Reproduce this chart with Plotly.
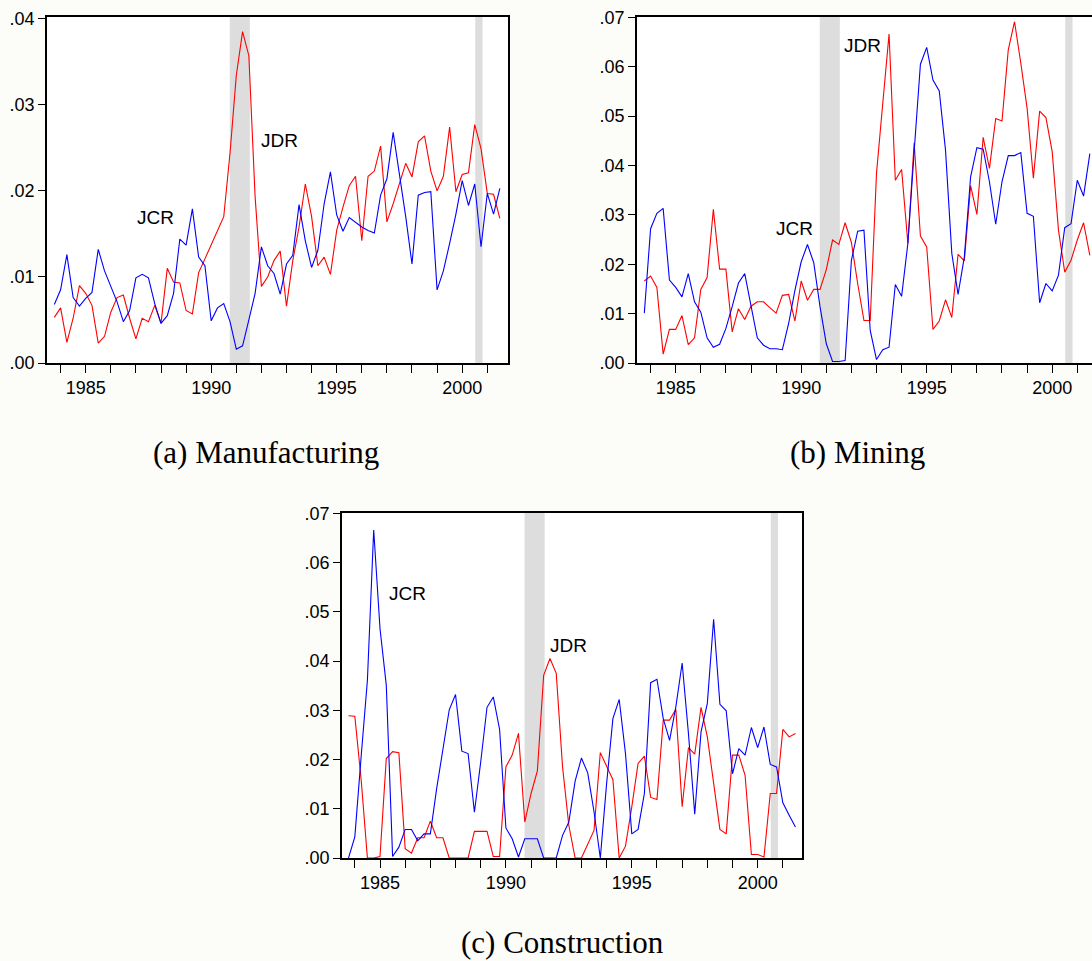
import plotly.graph_objects as go

# Quarterly observations 1983Q4 .. 2001Q3 (72 quarters)
start_year = 1983.75
n_q = 72
quarters = [start_year + 0.25 * i for i in range(n_q)]

# (a) Manufacturing
manu_jcr = [0.0068, 0.0085, 0.0126, 0.0076, 0.0066, 0.0075, 0.0082, 0.0132, 0.0107, 0.0090,
            0.0071, 0.0048, 0.0061, 0.0099, 0.0103, 0.0099, 0.0069, 0.0046, 0.0055, 0.0081,
            0.0144, 0.0137, 0.0179, 0.0123, 0.0113, 0.0049, 0.0064, 0.0069, 0.0048, 0.0016,
            0.0020, 0.0050, 0.0081, 0.0135, 0.0113, 0.0104, 0.0080, 0.0115, 0.0125, 0.0184,
            0.0142, 0.0111, 0.0131, 0.0185, 0.0222, 0.0172, 0.0153, 0.0169, 0.0163, 0.0158,
            0.0154, 0.0151, 0.0195, 0.0214, 0.0268, 0.0220, 0.0170, 0.0115, 0.0195, 0.0198,
            0.0199, 0.0085, 0.0107, 0.0139, 0.0173, 0.0212, 0.0183, 0.0208, 0.0135, 0.0197,
            0.0173, 0.0203]
manu_jdr = [0.0053, 0.0064, 0.0024, 0.0052, 0.0090, 0.0081, 0.0067, 0.0023, 0.0031, 0.0059,
            0.0076, 0.0079, 0.0052, 0.0028, 0.0052, 0.0048, 0.0067, 0.0046, 0.0110, 0.0094,
            0.0093, 0.0061, 0.0057, 0.0105, 0.0121, 0.0137, 0.0154, 0.0170, 0.0244, 0.0334,
            0.0385, 0.0357, 0.0193, 0.0089, 0.0100, 0.0119, 0.0130, 0.0066, 0.0119, 0.0158,
            0.0208, 0.0170, 0.0113, 0.0123, 0.0103, 0.0154, 0.0181, 0.0206, 0.0217, 0.0142,
            0.0217, 0.0223, 0.0252, 0.0164, 0.0185, 0.0208, 0.0232, 0.0216, 0.0257, 0.0264,
            0.0223, 0.0200, 0.0217, 0.0274, 0.0199, 0.0219, 0.0221, 0.0277, 0.0249, 0.0197,
            0.0196, 0.0168]

# (b) Mining
mine_jcr = [0.0101, 0.0272, 0.0303, 0.0313, 0.0168, 0.0153, 0.0134, 0.0181, 0.0124, 0.0103,
            0.0051, 0.0032, 0.0038, 0.0070, 0.0114, 0.0162, 0.0181, 0.0119, 0.0051, 0.0036,
            0.0029, 0.0029, 0.0027, 0.0080, 0.0147, 0.0205, 0.0240, 0.0203, 0.0114, 0.0039,
            0.0003, 0.0003, 0.0005, 0.0208, 0.0267, 0.0269, 0.0066, 0.0007, 0.0027, 0.0032,
            0.0159, 0.0135, 0.0242, 0.0428, 0.0605, 0.0639, 0.0573, 0.0551, 0.0431, 0.0222,
            0.0139, 0.0215, 0.0377, 0.0436, 0.0433, 0.0367, 0.0281, 0.0367, 0.0420, 0.0420,
            0.0426, 0.0303, 0.0297, 0.0122, 0.0161, 0.0146, 0.0178, 0.0274, 0.0282, 0.0370,
            0.0338, 0.0424]
mine_jdr = [0.0166, 0.0176, 0.0153, 0.0018, 0.0068, 0.0068, 0.0096, 0.0037, 0.0051, 0.0149,
            0.0173, 0.0311, 0.0190, 0.0190, 0.0063, 0.0110, 0.0088, 0.0115, 0.0124, 0.0124,
            0.0112, 0.0101, 0.0137, 0.0139, 0.0085, 0.0166, 0.0127, 0.0149, 0.0149, 0.0189,
            0.0249, 0.0240, 0.0284, 0.0244, 0.0161, 0.0086, 0.0086, 0.0384, 0.0526, 0.0666,
            0.0370, 0.0392, 0.0242, 0.0446, 0.0257, 0.0235, 0.0068, 0.0085, 0.0128, 0.0092,
            0.0220, 0.0207, 0.0359, 0.0301, 0.0457, 0.0394, 0.0495, 0.0490, 0.0634, 0.0691,
            0.0607, 0.0516, 0.0374, 0.0510, 0.0497, 0.0428, 0.0269, 0.0184, 0.0208, 0.0249,
            0.0284, 0.0218]

# (c) Construction
cons_jcr = [0.0000, 0.0043, 0.0205, 0.0361, 0.0666, 0.0466, 0.0351, 0.0003, 0.0022, 0.0058,
            0.0058, 0.0035, 0.0049, 0.0049, 0.0141, 0.0226, 0.0301, 0.0332, 0.0217, 0.0212,
            0.0093, 0.0195, 0.0306, 0.0327, 0.0261, 0.0061, 0.0039, 0.0002, 0.0039, 0.0039,
            0.0039, 0.0000, 0.0000, 0.0000, 0.0046, 0.0073, 0.0156, 0.0203, 0.0173, 0.0094,
            0.0000, 0.0151, 0.0283, 0.0322, 0.0212, 0.0049, 0.0058, 0.0131, 0.0356, 0.0363,
            0.0283, 0.0239, 0.0307, 0.0396, 0.0253, 0.0089, 0.0256, 0.0314, 0.0485, 0.0312,
            0.0299, 0.0171, 0.0222, 0.0209, 0.0265, 0.0224, 0.0266, 0.0190, 0.0185, 0.0112,
            0.0087, 0.0063]
cons_jdr = [0.0289, 0.0288, 0.0160, 0.0000, 0.0000, 0.0003, 0.0202, 0.0216, 0.0214, 0.0019,
            0.0010, 0.0041, 0.0041, 0.0075, 0.0041, 0.0041, 0.0000, 0.0000, 0.0000, 0.0000,
            0.0054, 0.0054, 0.0054, 0.0003, 0.0003, 0.0185, 0.0209, 0.0253, 0.0073, 0.0131,
            0.0177, 0.0371, 0.0405, 0.0375, 0.0185, 0.0066, 0.0000, 0.0000, 0.0029, 0.0056,
            0.0214, 0.0185, 0.0159, 0.0000, 0.0024, 0.0104, 0.0192, 0.0207, 0.0123, 0.0119,
            0.0280, 0.0280, 0.0302, 0.0104, 0.0224, 0.0211, 0.0306, 0.0246, 0.0151, 0.0058,
            0.0049, 0.0209, 0.0209, 0.0168, 0.0007, 0.0007, 0.0002, 0.0131, 0.0131, 0.0261,
            0.0246, 0.0253]

recessions = [(1990.74, 1991.54), (2000.52, 2000.81)]
year_ticks = list(range(1984, 2002))
year_labels = [str(y) if y % 5 == 0 else "" for y in year_ticks]
captions = ["(a) Manufacturing", "(b) Mining", "(c) Construction"]

W, H = 1092, 961

def fx(px):
    return px / W

def fy(py):
    return 1 - py / H

panels = [
    dict(x=(47, 508), y=(17, 363), xr=(1983.458, 2001.825), ymax=0.0402, step=0.01,
         jcr=manu_jcr, jdr=manu_jdr, mirror_y=True,
         ann=[("JCR", 1987.79, 0.0169), ("JDR", 1992.72, 0.0259)],
         cap=(266, 452, "middle")),
    dict(x=(637, 1092), y=(17, 363), xr=(1983.458, 2001.586), ymax=0.07006, step=0.01,
         jcr=mine_jcr, jdr=mine_jdr, mirror_y=False,
         ann=[("JCR", 1989.72, 0.0272), ("JDR", 1992.45, 0.0642)],
         cap=(857, 452, "middle")),
    dict(x=(342, 802), y=(513, 858), xr=(1983.491, 2001.76), ymax=0.07006, step=0.01,
         jcr=cons_jcr, jdr=cons_jdr, mirror_y=True,
         ann=[("JCR", 1986.08, 0.0537), ("JDR", 1992.48, 0.0432)],
         cap=(563, 961, "bottom")),
]

fig = go.Figure()
layout = dict(width=W, height=H,
              margin=dict(l=0, r=0, t=0, b=0, pad=0, autoexpand=False), autosize=False,
              paper_bgcolor="#fcfcf8", plot_bgcolor="white", showlegend=False,
              font=dict(family="Liberation Sans, Arial, sans-serif", size=18, color="black"))
shapes = []
annotations = []

for k, p in enumerate(panels):
    sfx = "" if k == 0 else str(k + 1)
    xa, ya = "x" + sfx, "y" + sfx
    fig.add_trace(go.Scatter(x=quarters, y=p["jdr"], mode="lines", xaxis=xa, yaxis=ya,
                             line=dict(color="#ff0000", width=1.1), name="JDR"))
    fig.add_trace(go.Scatter(x=quarters, y=p["jcr"], mode="lines", xaxis=xa, yaxis=ya,
                             line=dict(color="#0000ff", width=1.1), name="JCR"))
    nt = int(round(p["ymax"] / p["step"]))
    yt = [round(j * p["step"], 2) for j in range(nt + 1)]
    ytxt = ["." + f"{v:.2f}".split(".")[1] for v in yt]
    layout["xaxis" + sfx] = dict(
        domain=[fx(p["x"][0]), fx(p["x"][1])], anchor=ya, range=list(p["xr"]),
        tickvals=year_ticks, ticktext=year_labels, ticks="outside", ticklen=8,
        tickwidth=1.3, tickcolor="black", showline=True, linecolor="black", linewidth=1.6,
        mirror=True, showgrid=False, zeroline=False, tickfont=dict(size=18))
    layout["yaxis" + sfx] = dict(
        domain=[fy(p["y"][1]), fy(p["y"][0])], anchor=xa, range=[0, p["ymax"]],
        tickvals=yt, ticktext=ytxt, ticks="outside", ticklen=7, tickwidth=1.3,
        tickcolor="black", showline=True, linecolor="black", linewidth=1.6,
        mirror=p["mirror_y"], showgrid=False, zeroline=False, tickfont=dict(size=18))
    for (r0, r1) in recessions:
        shapes.append(dict(type="rect", xref=xa, yref=ya + " domain", x0=r0, x1=r1,
                           y0=0, y1=1, fillcolor="#dddddd", line=dict(width=0),
                           layer="below"))
    for (txt, ax, ay) in p["ann"]:
        annotations.append(dict(text=txt, x=ax, y=ay, xref=xa, yref=ya, showarrow=False,
                                font=dict(size=19, color="black")))
    cx, cy, cyanchor = p["cap"]
    annotations.append(dict(text=captions[k], x=fx(cx), y=fy(cy),
                            xref="paper", yref="paper", showarrow=False,
                            xanchor="center", yanchor=cyanchor, borderpad=0,
                            font=dict(family="Liberation Serif, Times New Roman, serif",
                                      size=31, color="black")))

layout["shapes"] = shapes
layout["annotations"] = annotations
fig.update_layout(**layout)

page_fix = ("document.documentElement.style.margin='0';"
            "document.body.style.margin='0';document.body.style.padding='0';"
            "document.documentElement.style.overflow='hidden';"
            "document.body.style.overflow='hidden';")
fig.write_html("out.html", config={"responsive": False, "displayModeBar": False},
               post_script=page_fix)
